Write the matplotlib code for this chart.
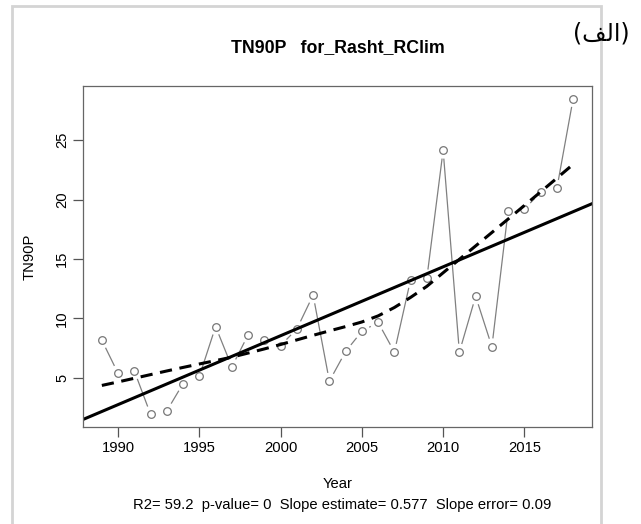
import numpy as np
import matplotlib.pyplot as plt
from matplotlib.patches import Rectangle

plt.rcParams['font.family'] = ['Liberation Sans', 'DejaVu Sans']

# Data
years = np.arange(1989, 2019)
tn90p = [8.15, 5.35, 5.55, 1.9, 2.2, 4.5, 5.1, 9.3, 5.9, 8.6,
         8.15, 7.7, 9.1, 11.95, 4.7, 7.2, 8.9, 9.65, 7.15, 13.25,
         13.4, 24.15, 7.15, 11.85, 7.6, 19.05, 19.2, 20.6, 20.95, 28.5]
title = 'TN90P   for_Rasht_RClim'
subtitle = 'R2= 59.2  p-value= 0  Slope estimate= 0.577  Slope error= 0.09'
xticks = [1990, 1995, 2000, 2005, 2010, 2015]
yticks = [5, 10, 15, 20, 25]


def lowess(x, y, f=2/3, it=3):
    # same steps as R's lowess()
    x = np.asarray(x, float)
    y = np.asarray(y, float)
    n = len(x)
    ns = max(min(int(round(f*n)), n), 2)
    rw = np.ones(n)
    ys = np.zeros(n)
    for k in range(it + 1):
        for i in range(n):
            d = np.abs(x - x[i])
            h = np.sort(d)[ns - 1]
            w = np.where(d <= 0.999*h, (1 - (d/h)**3)**3, 0.0)
            w[d <= 0.001*h] = 1.0
            w = w*rw
            sw = w.sum()
            xm = (w*x).sum()/sw
            ym = (w*y).sum()/sw
            sxx = (w*(x - xm)**2).sum()
            if sxx > 0:
                b = (w*(x - xm)*(y - ym)).sum()/sxx
            else:
                b = 0.0
            ys[i] = ym + b*(x[i] - xm)
        res = np.abs(y - ys)
        cmad = 6*np.median(res)
        if cmad < 1e-7*np.mean(np.abs(y)):
            break
        rw = np.where(res < 0.999*cmad, (1 - (res/cmad)**2)**2, 0.0)
        rw[res <= 0.001*cmad] = 1.0
    return ys


W, H = 641, 524
fig = plt.figure(figsize=(W/100, H/100), dpi=100)
ax = fig.add_axes([83/W, (H - 427)/H, (592 - 83)/W, (427 - 86)/H])

x = years.astype(float)
y = np.array(tn90p)
xr = x.max() - x.min()
yr = y.max() - y.min()
ax.set_xlim(x.min() - 0.04*xr, x.max() + 0.04*xr)
ax.set_ylim(y.min() - 0.04*yr, y.max() + 0.04*yr)

# type="b" style: segments with gaps around the points
fig.canvas.draw()
pts = ax.transData.transform(np.column_stack([x, y]))
gap = 9
inv = ax.transData.inverted()
for i in range(len(pts) - 1):
    p0, p1 = pts[i], pts[i + 1]
    d = p1 - p0
    L = np.hypot(*d)
    if L <= 2*gap:
        continue
    u = d/L
    a = inv.transform(p0 + u*gap)
    b = inv.transform(p1 - u*gap)
    ax.plot([a[0], b[0]], [a[1], b[1]], color='#808080', lw=0.9)
ax.plot(x, y, 'o', ms=5.5, mfc='none', mec='#777777', mew=0.9)

# linear fit
coef = np.polyfit(x, y, 1)
xl = np.array(ax.get_xlim())
ax.plot(xl, np.polyval(coef, xl), color='black', lw=2.2)

# lowess
ax.plot(x, lowess(x, y), color='black', lw=2.2, ls=(0, (4, 2.5)))

ax.set_xticks(xticks)
ax.set_yticks(yticks)
ax.tick_params(axis='both', length=7, width=0.9, color='#555555',
               labelsize=10.6, pad=3)
ax.tick_params(axis='y', labelrotation=90)
for lab in ax.get_yticklabels():
    lab.set_va('center')
for s in ax.spines.values():
    s.set_color('#666666')
    s.set_linewidth(0.9)

fig.text(338/W, 1 - 48/H, title, ha='center', va='center',
         fontsize=12.8, fontweight='bold')
fig.text(338/W, 1 - 484/H, 'Year', ha='center', va='center', fontsize=10.6)
fig.text(342/W, 1 - 505/H, subtitle, ha='center', va='center', fontsize=10.6)
fig.text(30/W, 1 - 257/H, 'TN90P', ha='center', va='center',
         rotation=90, fontsize=10.6)

# outer gray frame
fig.patches.append(Rectangle((12/W, -0.05), (601 - 12)/W, 1.05 - 6/H,
                             transform=fig.transFigure, fill=False,
                             edgecolor='#d4d4d4', lw=2))
# "(الف)" written in visual order with presentation forms
fig.text(601/W, 1 - 34/H, '(\ufed2\ufedf\ufe8d)', ha='center', va='center',
         fontsize=17, family=['DejaVu Sans'])

fig.savefig('out.png', dpi=100)
